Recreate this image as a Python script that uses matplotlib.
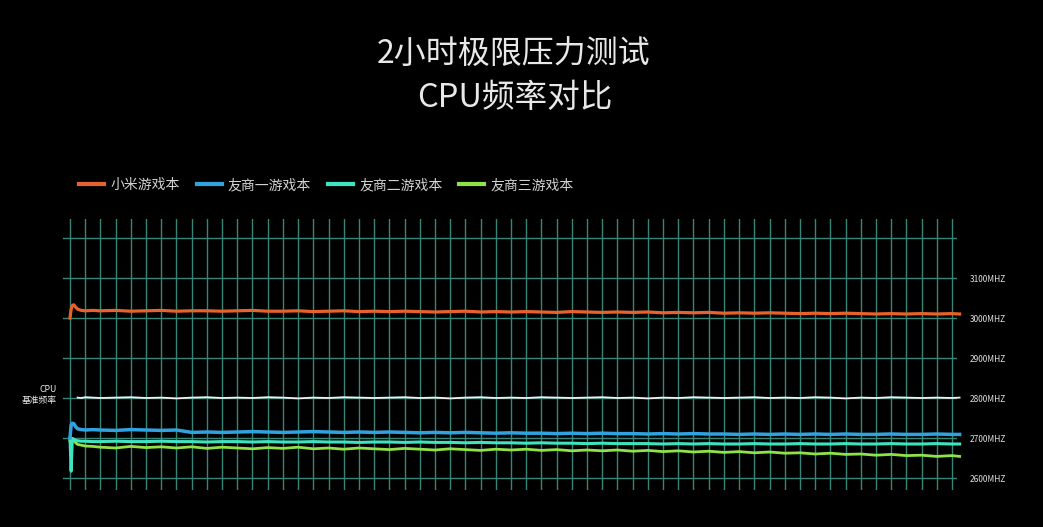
import numpy as np
import matplotlib
matplotlib.use("Agg")
import matplotlib.pyplot as plt

plt.rcParams['font.family'] = ['Noto Sans CJK SC', 'DejaVu Sans']

# ---------------- data ----------------
title_lines = ["2小时极限压力测试", "CPU频率对比"]
series_names = ["小米游戏本", "友商一游戏本", "友商二游戏本", "友商三游戏本"]
ytick_values = [2600, 2700, 2800, 2900, 3000, 3100, 3200]
ytick_labels = ["2600MHZ", "2700MHZ", "2800MHZ", "2900MHZ", "3000MHZ", "3100MHZ", ""]
base_label = "CPU\n基准频率"

# time in minutes
time_min = ([0, 0.15, 0.3, 0.5, 0.75, 1, 1.5, 2, 3]
            + list(range(4, 117, 2)) + [117])

xiaomi = [3000, 3022, 3031, 3033, 3027, 3022, 3019, 3018, 3019,
          3018, 3019, 3017, 3018, 3019, 3017, 3018, 3018, 3017, 3018,
          3019, 3017, 3017, 3018, 3016, 3017, 3018, 3016, 3017, 3016,
          3017, 3016, 3015, 3016, 3017, 3015, 3016, 3015, 3016, 3015,
          3014, 3016, 3015, 3014, 3015, 3014, 3015, 3013, 3014, 3013,
          3014, 3012, 3013, 3012, 3013, 3012, 3011, 3012, 3011, 3012,
          3011, 3010, 3011, 3010, 3011, 3010, 3011,
          3010]

base_freq = [np.nan, np.nan, np.nan, np.nan, np.nan, 2801, 2800, 2802, 2801,
             2800, 2801, 2802, 2800, 2801, 2799, 2801, 2802, 2800, 2801,
             2800, 2802, 2801, 2799, 2801, 2800, 2802, 2801, 2800, 2801,
             2802, 2800, 2801, 2799, 2801, 2802, 2800, 2801, 2800, 2802,
             2801, 2800, 2801, 2802, 2800, 2801, 2799, 2801, 2800, 2802,
             2801, 2800, 2801, 2802, 2800, 2801, 2800, 2802, 2801, 2799,
             2801, 2800, 2802, 2801, 2800, 2801, 2800,
             2801]

rival1 = [2700, 2733, 2737, 2736, 2728, 2723, 2721, 2720, 2721,
          2720, 2719, 2721, 2720, 2719, 2720, 2714, 2715, 2714, 2715,
          2716, 2715, 2714, 2715, 2716, 2715, 2714, 2715, 2714, 2715,
          2714, 2713, 2714, 2713, 2714, 2713, 2712, 2713, 2712, 2712,
          2711, 2712, 2711, 2712, 2711, 2711, 2710, 2711, 2710, 2711,
          2710, 2710, 2709, 2710, 2709, 2710, 2709, 2710, 2709, 2710,
          2709, 2709, 2710, 2709, 2709, 2710, 2709,
          2709]

rival2 = [2700, 2617, 2699, 2697, 2694, 2693, 2692, 2692, 2691,
          2691, 2692, 2691, 2691, 2692, 2691, 2691, 2690, 2691, 2691,
          2690, 2691, 2690, 2690, 2691, 2690, 2690, 2689, 2690, 2690,
          2689, 2690, 2689, 2689, 2688, 2689, 2688, 2688, 2687, 2688,
          2687, 2687, 2686, 2687, 2686, 2686, 2686, 2685, 2686, 2685,
          2686, 2685, 2685, 2686, 2685, 2685, 2686, 2685, 2685, 2686,
          2685, 2685, 2686, 2685, 2685, 2686, 2685,
          2685]

rival3 = [2692, 2694, 2695, 2693, 2688, 2684, 2682, 2680, 2679,
          2677, 2675, 2679, 2676, 2678, 2675, 2678, 2674, 2677, 2675,
          2673, 2676, 2674, 2677, 2673, 2675, 2672, 2675, 2673, 2671,
          2674, 2672, 2670, 2673, 2671, 2669, 2672, 2670, 2672, 2669,
          2671, 2668, 2670, 2668, 2670, 2667, 2669, 2666, 2668, 2665,
          2667, 2664, 2666, 2663, 2665, 2662, 2663, 2660, 2662, 2659,
          2660, 2657, 2659, 2656, 2657, 2654, 2656,
          2654]

grid_x = list(range(0, 117, 2))

# ---------------- style ----------------
W, H = 1043, 527
fig = plt.figure(figsize=(W / 100, H / 100), dpi=100, facecolor="black")

ax_left, ax_right, ax_top, ax_bottom = 63, 957, 219, 490
ax = fig.add_axes([ax_left / W, 1 - ax_bottom / H,
                   (ax_right - ax_left) / W, (ax_bottom - ax_top) / H])
ax.set_facecolor("black")

px_per_min = (952 - 70) / 116.0
ax.set_xlim(-(70 - ax_left) / px_per_min, (ax_right - 70) / px_per_min)
ax.set_ylim(2570, 3247.5)

for s in ax.spines.values():
    s.set_visible(False)

grid_color = "#378576"
ax.set_xticks(grid_x)
ax.set_xticklabels([])
ax.set_yticks(ytick_values)
ax.set_yticklabels(ytick_labels)
ax.yaxis.tick_right()
ax.tick_params(axis="both", length=0)
ax.tick_params(axis="y", pad=9, labelsize=6, labelcolor="#e0e0e0")
ax.grid(True, color=grid_color, linewidth=1.0)
ax.set_axisbelow(True)

colors = ["#e8622c", "#2fa2df", "#3ee4c0", "#8fe247"]

ax.plot(time_min, base_freq, color="#f0f0f0", lw=1.3, clip_on=False, zorder=3)
l3, = ax.plot(time_min, rival3, color=colors[3], lw=2.0, clip_on=False, zorder=3)
l2, = ax.plot(time_min, rival2, color=colors[2], lw=2.2, clip_on=False, zorder=4)
l1, = ax.plot(time_min, rival1, color=colors[1], lw=2.5, clip_on=False, zorder=5)
l0, = ax.plot(time_min, xiaomi, color=colors[0], lw=2.3, clip_on=False, zorder=6)

leg = fig.legend([l0, l1, l2, l3], series_names, ncol=4, frameon=False,
                 loc="center left", bbox_to_anchor=(79 / W, 1 - 185 / H),
                 borderpad=0, borderaxespad=0, fontsize=10,
                 handlelength=1.8, handletextpad=0.45, columnspacing=1.22)
for txt in leg.get_texts():
    txt.set_color("#d2d2d2")
for h in leg.legend_handles:
    h.set_linewidth(3)

fig.text(514 / W, 1 - 54 / H, title_lines[0], color="#e8e8e8", fontsize=23,
         ha="center", va="center")
fig.text(515 / W, 1 - 98 / H, title_lines[1], color="#e8e8e8", fontsize=23.5,
         ha="center", va="center")

fig.text(57 / W, 1 - 395 / H, base_label, color="#e8e8e8", fontsize=6.3,
         ha="right", va="center", linespacing=1.2)

fig.savefig("out.png", dpi=100, facecolor="black")
